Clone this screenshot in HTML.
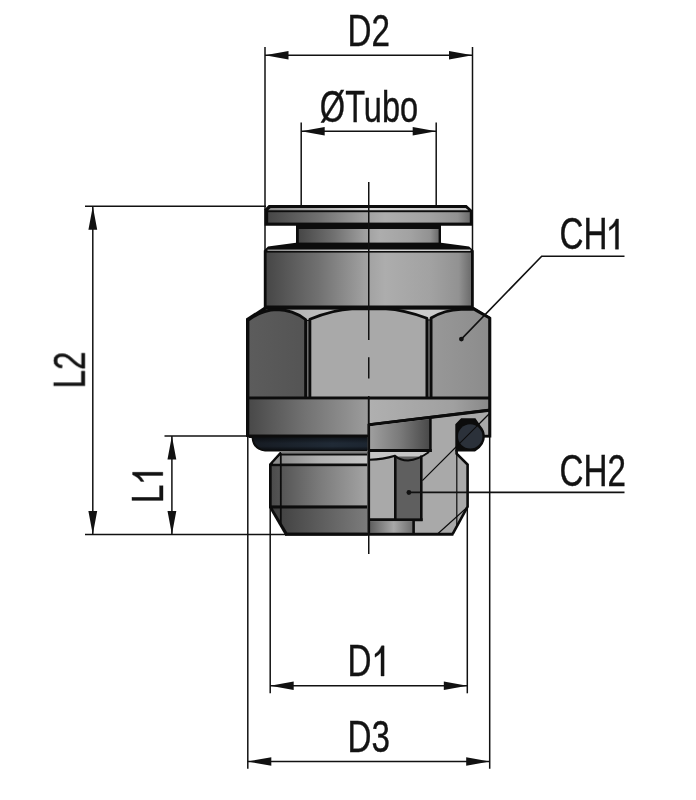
<!DOCTYPE html>
<html>
<head>
<meta charset="utf-8">
<title>Fitting drawing</title>
<style>
html,body{margin:0;padding:0;background:#fff;}
body{width:696px;height:800px;overflow:hidden;font-family:"Liberation Sans",sans-serif;}
svg{display:block;}
.t{font-family:"Liberation Sans",sans-serif;font-size:43.9px;fill:#111;stroke:#111;stroke-width:0.4px;}
</style>
</head>
<body>
<svg width="696" height="800" viewBox="0 0 696 800">
<defs>
  <linearGradient id="gBody" x1="0" y1="0" x2="1" y2="0">
    <stop offset="0" stop-color="#474747"/>
    <stop offset="0.25" stop-color="#707070"/>
    <stop offset="0.48" stop-color="#a0a0a0"/>
    <stop offset="0.58" stop-color="#adadad"/>
    <stop offset="0.8" stop-color="#a2a2a2"/>
    <stop offset="0.94" stop-color="#929292"/>
    <stop offset="1" stop-color="#6c6c6c"/>
  </linearGradient>
  <linearGradient id="gHi" x1="0" y1="0" x2="1" y2="0">
    <stop offset="0" stop-color="#8a8a8a"/>
    <stop offset="0.5" stop-color="#d8d8d8"/>
    <stop offset="1" stop-color="#c8c8c8"/>
  </linearGradient>
  <!-- user space gradients for left-half parts -->
  <linearGradient id="gBand" gradientUnits="userSpaceOnUse" x1="248" y1="0" x2="368" y2="0">
    <stop offset="0" stop-color="#484848"/>
    <stop offset="0.5" stop-color="#747474"/>
    <stop offset="1" stop-color="#9c9c9c"/>
  </linearGradient>
  <linearGradient id="gThr" gradientUnits="userSpaceOnUse" x1="270" y1="0" x2="368" y2="0">
    <stop offset="0" stop-color="#4a4a4a"/>
    <stop offset="0.5" stop-color="#7a7a7a"/>
    <stop offset="1" stop-color="#a4a4a4"/>
  </linearGradient>
  <linearGradient id="gThrB" gradientUnits="userSpaceOnUse" x1="270" y1="0" x2="368" y2="0">
    <stop offset="0" stop-color="#3c3c3c"/>
    <stop offset="0.5" stop-color="#5c5c5c"/>
    <stop offset="1" stop-color="#7c7c7c"/>
  </linearGradient>
  <linearGradient id="gThrT" gradientUnits="userSpaceOnUse" x1="270" y1="0" x2="368" y2="0">
    <stop offset="0" stop-color="#808080"/>
    <stop offset="0.5" stop-color="#b0b0b0"/>
    <stop offset="1" stop-color="#c6c6c6"/>
  </linearGradient>
  <linearGradient id="gOr" gradientUnits="userSpaceOnUse" x1="250" y1="0" x2="368" y2="0">
    <stop offset="0" stop-color="#161b22"/>
    <stop offset="0.7" stop-color="#202a36"/>
    <stop offset="1" stop-color="#1c2530"/>
  </linearGradient>
  <linearGradient id="gOrV" x1="0" y1="0" x2="0" y2="1">
    <stop offset="0" stop-color="#000" stop-opacity="0.45"/>
    <stop offset="0.45" stop-color="#000" stop-opacity="0"/>
    <stop offset="0.7" stop-color="#000" stop-opacity="0"/>
    <stop offset="1" stop-color="#000" stop-opacity="0.55"/>
  </linearGradient>
  <linearGradient id="gLF" x1="0" y1="0" x2="1" y2="0">
    <stop offset="0" stop-color="#5c5c5c"/>
    <stop offset="1" stop-color="#545454"/>
  </linearGradient>
  <linearGradient id="gRF" x1="0" y1="0" x2="1" y2="0">
    <stop offset="0" stop-color="#989898"/>
    <stop offset="1" stop-color="#8c8c8c"/>
  </linearGradient>
  <linearGradient id="gRBand" gradientUnits="userSpaceOnUse" x1="368" y1="0" x2="490" y2="0">
    <stop offset="0" stop-color="#b0b0b0"/>
    <stop offset="0.7" stop-color="#a0a0a0"/>
    <stop offset="1" stop-color="#888888"/>
  </linearGradient>
  <linearGradient id="gBlk" gradientUnits="userSpaceOnUse" x1="369" y1="0" x2="431" y2="0">
    <stop offset="0" stop-color="#a0a0a0"/>
    <stop offset="0.5" stop-color="#7a7a7a"/>
    <stop offset="1" stop-color="#474747"/>
  </linearGradient>
  <linearGradient id="gBox" gradientUnits="userSpaceOnUse" x1="369" y1="0" x2="414" y2="0">
    <stop offset="0" stop-color="#5c5c5c"/>
    <stop offset="0.55" stop-color="#a8a8a8"/>
    <stop offset="1" stop-color="#6a6a6a"/>
  </linearGradient>
</defs>

<rect width="696" height="800" fill="#fff"/>

<!-- ================= dimension / extension lines ================= -->
<g stroke="#111" stroke-width="1.5" fill="none">
  <!-- D2 -->
  <line x1="265" y1="47" x2="265" y2="250"/>
  <line x1="472.5" y1="47" x2="472.5" y2="250"/>
  <line x1="265" y1="55.3" x2="472.5" y2="55.3"/>
  <!-- Tubo -->
  <line x1="301.2" y1="122.5" x2="301.2" y2="206"/>
  <line x1="436.2" y1="122.5" x2="436.2" y2="206"/>
  <line x1="301.2" y1="131.3" x2="436.2" y2="131.3"/>
  <!-- L2 -->
  <line x1="85" y1="206.2" x2="266" y2="206.2"/>
  <line x1="85" y1="534.5" x2="287" y2="534.5"/>
  <line x1="92.8" y1="206.2" x2="92.8" y2="534.5"/>
  <!-- L1 -->
  <line x1="164.5" y1="436" x2="252" y2="436"/>
  <line x1="171.9" y1="436" x2="171.9" y2="534.5"/>
  <!-- D1 -->
  <line x1="270.2" y1="506" x2="270.2" y2="693.3"/>
  <line x1="467.3" y1="506" x2="467.3" y2="693.3"/>
  <line x1="270.2" y1="685.7" x2="467.3" y2="685.7"/>
  <!-- D3 -->
  <line x1="247.8" y1="436" x2="247.8" y2="768.8"/>
  <line x1="489.7" y1="436" x2="489.7" y2="768.8"/>
  <line x1="247.8" y1="761.5" x2="489.7" y2="761.5"/>
</g>
<!-- arrowheads -->
<g fill="#111" stroke="none">
  <polygon points="265,55.3 288.5,51 288.5,59.6"/>
  <polygon points="472.5,55.3 449,51 449,59.6"/>
  <polygon points="301.2,131.3 324.7,127 324.7,135.6"/>
  <polygon points="436.2,131.3 412.7,127 412.7,135.6"/>
  <polygon points="92.8,206.2 88.4,229.7 97.2,229.7"/>
  <polygon points="92.8,534.5 88.4,511 97.2,511"/>
  <polygon points="171.9,436 167.5,459.5 176.3,459.5"/>
  <polygon points="171.9,534.5 167.5,511 176.3,511"/>
  <polygon points="270.2,685.7 293.7,681.4 293.7,690"/>
  <polygon points="467.3,685.7 443.8,681.4 443.8,690"/>
  <polygon points="247.8,761.5 271.3,757.2 271.3,765.8"/>
  <polygon points="489.7,761.5 466.2,757.2 466.2,765.8"/>
</g>

<!-- ================= body ================= -->
<!-- top flange -->
<polygon points="264.6,225.8 264.6,209.2 268.6,205.1 466.6,205.1 472.6,210.4 472.6,225.8" fill="#0c0c0c"/>
<rect x="268.2" y="212.2" width="201.6" height="10.4" fill="url(#gBody)"/>
<polygon points="268.2,210.3 270.6,207.9 465.6,207.9 468.4,210.3" fill="url(#gHi)"/>
<!-- neck -->
<rect x="296" y="224" width="145" height="24" fill="#0c0c0c"/>
<rect x="298.8" y="229" width="139.8" height="13.8" fill="url(#gBody)"/>
<!-- collar -->
<polygon points="296,242.8 441,242.8 469,246.6 473.8,250.5 473.8,308.5 263.8,308.5 263.8,250.5 268,246.6" fill="#0c0c0c"/>
<rect x="266.6" y="252.6" width="204.4" height="52.9" fill="url(#gBody)"/>
<rect x="267.5" y="249.5" width="203" height="1.5" fill="url(#gHi)"/>

<!-- hex nut silhouette -->
<polygon points="246,318.5 264,307 474,307 491.3,317.5 491.3,437.5 368.75,437.5 246,437" fill="#0c0c0c"/>
<!-- chamfer light area (under arcs) -->
<polygon points="266,309.8 472,309.8 488,319 249.5,320" fill="#c4c4c4"/>
<path d="M266,309.8 L472,309.8 L488,319 L249.5,320 Z" fill="url(#gHi)" opacity="0.55"/>
<!-- facets -->
<g stroke="#0c0c0c" stroke-width="2.8" stroke-linejoin="round">
<path d="M248,398 L248,320.5 C256,314 266,309.8 277,309.5 C289,309.6 297,313 305.6,319.5 L305.6,398 Z" fill="url(#gLF)"/>
<path d="M309.9,398 L309.9,319.3 C324,313.5 338,309.4 352,308.9 L386,308.9 C400,309.4 414,313.5 426.9,318.3 L426.9,398 Z" fill="#a9a9a9"/>
<path d="M431.1,398 L431.1,318 C440,312.5 449,309.6 461,309.3 L473.5,309 L489.6,318 L489.6,398 Z" fill="url(#gRF)"/>
</g>
<!-- grey slivers between double facet lines -->
<rect x="307" y="321" width="1.5" height="75.6" fill="#6e6e6e"/>
<rect x="428.3" y="320.5" width="1.4" height="76.1" fill="#6e6e6e"/>

<!-- lower band left -->
<rect x="249.3" y="399.4" width="118.5" height="35.3" fill="url(#gBand)"/>
<!-- lower band right (above slanted line) -->
<polygon points="369.4,399.4 488.2,399.4 488.2,408.8 369.4,423.2" fill="url(#gRBand)"/>

<!-- o-ring left -->
<path d="M248.6,434.7 L367.5,434.7 L367.5,451.5 L265,451.5 Q252.6,450 251.6,438 L248.6,438 Z" fill="#0c0c0c"/>
<path d="M253.4,437.8 L367.5,437.8 L367.5,449.9 L266.2,449.9 Q254.8,448.4 253.4,437.8 Z" fill="url(#gOr)"/>
<path d="M253.4,437.8 L367.5,437.8 L367.5,449.9 L266.2,449.9 Q254.8,448.4 253.4,437.8 Z" fill="url(#gOrV)"/>
<!-- thread left -->
<polygon points="279.8,452 367.5,452 367.5,535.6 285.2,535.6 269,507.6 269,464" fill="#0c0c0c"/>
<rect x="281" y="451.6" width="86.5" height="2" fill="#7c7c7c"/>
<polygon points="280.2,455.4 367.5,455.4 367.5,463.4 272.8,463.4" fill="url(#gThrT)"/>
<polygon points="280.2,455.4 280.2,463.4 272.8,463.4" fill="#8c8c8c"/>
<rect x="271.7" y="466.2" width="95.8" height="39.2" fill="url(#gThr)"/>
<polygon points="272.8,508.4 367.5,508.4 367.5,532.7 287.4,532.7" fill="url(#gThrB)"/>
<line x1="280.8" y1="453" x2="280.8" y2="524" stroke="#0c0c0c" stroke-width="1.8"/>

<!-- ============ section right ============ -->
<polygon points="369.4,426 488.2,411.6 488.2,436.4 457,436.4 457,453 467.5,464.5 467.5,506.5 452.6,533 369.4,533" fill="#a9a9a9"/>
<!-- slanted line -->
<line x1="368" y1="424.9" x2="489.6" y2="410.3" stroke="#0c0c0c" stroke-width="3"/>
<!-- inner block -->
<polygon points="370,426.2 429.6,419 429.6,449 370,449" fill="url(#gBlk)"/>
<line x1="430.4" y1="417.6" x2="430.4" y2="452" stroke="#0c0c0c" stroke-width="2.6"/>
<line x1="368" y1="450.5" x2="431.7" y2="450.5" stroke="#0c0c0c" stroke-width="3"/>
<!-- cone strip under block -->
<path d="M369.5,452 L429,452 Q418,460 408,460.5 Q400,460.5 395,455.8 Q383,459.5 369.5,459.8 Z" fill="#c6c6c6"/>
<!-- socket -->
<rect x="395.4" y="456.5" width="25.8" height="62" fill="#5f5f5f"/>
<path d="M369.5,459.8 Q383,459.5 395,455.8 Q400,460.5 408,460.5 Q418,460 429,452" fill="none" stroke="#0c0c0c" stroke-width="2"/>
<line x1="395.3" y1="456" x2="395.3" y2="520" stroke="#0c0c0c" stroke-width="2.6"/>
<line x1="421.3" y1="455.5" x2="421.3" y2="521" stroke="#0c0c0c" stroke-width="2.6"/>
<line x1="368" y1="519.7" x2="422.6" y2="519.7" stroke="#0c0c0c" stroke-width="3"/>
<!-- bottom small box -->
<rect x="369.5" y="521.2" width="43.5" height="11.6" fill="url(#gBox)"/>
<line x1="413.6" y1="520" x2="413.6" y2="534" stroke="#0c0c0c" stroke-width="2.6"/>
<!-- thin construction lines -->
<g stroke="#0c0c0c" stroke-width="1.2" fill="none">
  <line x1="489" y1="414" x2="422.4" y2="480.6"/>
  <line x1="456.8" y1="452" x2="456.8" y2="526"/>
  <line x1="467.5" y1="507" x2="437.5" y2="534"/>
</g>
<!-- o-ring right -->
<path d="M455.3,451.6 L455.3,424.2 L461.1,418.3 L475.4,418.3 L480.4,425.6 Q484.9,430.6 484.9,436.4 Q484.9,444.6 476.4,450.6 L475,451.6 Z" fill="#0c0c0c"/>
<circle cx="470.2" cy="436.4" r="12.2" fill="#2b313a"/>
<line x1="479.4" y1="423.6" x2="457.6" y2="445.4" stroke="#0c0c0c" stroke-width="1.1"/>
<line x1="483.5" y1="436" x2="489" y2="436" stroke="#0c0c0c" stroke-width="2.4"/>
<!-- right thread outline -->
<path d="M456.6,450 L456.6,453.6 L467.6,464.6 L467.6,506.6 L452.6,534.2" fill="none" stroke="#0c0c0c" stroke-width="2.6" stroke-linejoin="miter"/>
<!-- section boundary -->
<line x1="368.8" y1="424" x2="368.8" y2="535" stroke="#0c0c0c" stroke-width="2.6"/>
<!-- bottom line -->
<line x1="285" y1="534.2" x2="453.4" y2="534.2" stroke="#0c0c0c" stroke-width="3"/>

<!-- centre line -->
<g stroke="#111" stroke-width="1.5">
  <line x1="368.75" y1="182" x2="368.75" y2="340"/>
  <line x1="368.75" y1="357.3" x2="368.75" y2="378.5"/>
  <line x1="368.75" y1="396" x2="368.75" y2="554"/>
</g>

<!-- leaders -->
<g stroke="#111" stroke-width="1.6" fill="none">
  <polyline points="461.4,339.1 541.7,256.2 624.5,256.2"/>
  <line x1="408.9" y1="492.4" x2="624.5" y2="492.4"/>
</g>
<circle cx="461.4" cy="339.1" r="2.4" fill="#111"/>
<circle cx="408.9" cy="492.5" r="2.4" fill="#111"/>

<!-- ================= text ================= -->
<defs>
  <path id="one" d="M6.6,-30.2 L9.1,-30.2 L9.1,0 L6,0 L6,-23.6 Q3.4,-20.6 0,-18.8 L0,-22 Q4.6,-24.8 6.6,-30.2 Z"/>
</defs>
<g class="t" opacity="0.99">
  <text id="tD2" transform="translate(347.6,46.4) scale(0.757,1)">D2</text>
  <text id="tTubo" transform="translate(319.8,121.6) scale(0.742,1)">ØTubo</text>
  <text id="tCH1" transform="translate(559.6,249.2) scale(0.757,1)">CH</text>
  <use href="#one" transform="translate(609.4,249.2)"/>
  <text id="tCH2" transform="translate(559.6,486.2) scale(0.757,1)">CH2</text>
  <text id="tD1" transform="translate(347.4,676) scale(0.757,1)">D</text>
  <use href="#one" transform="translate(375,676)"/>
  <text id="tD3" transform="translate(347.4,752.4) scale(0.757,1)">D3</text>
  <text id="tL2" transform="translate(84.8,388.5) rotate(-90) scale(0.757,1)">L2</text>
  <text id="tL1" transform="translate(162.8,503) rotate(-90) scale(0.757,1)">L</text>
  <use href="#one" transform="translate(162.8,481.4) rotate(-90)"/>
</g>
</svg>
</body>
</html>
